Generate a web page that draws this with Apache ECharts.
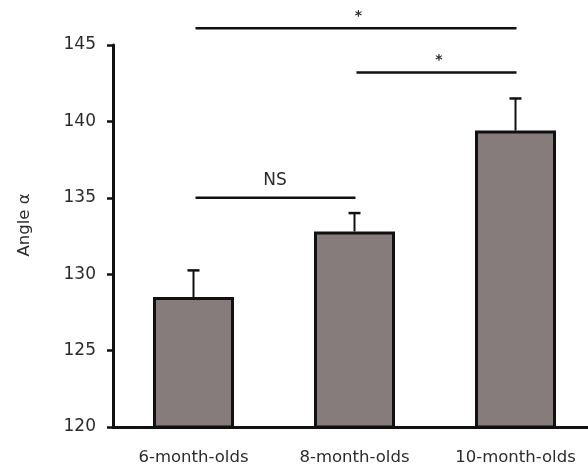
<!DOCTYPE html>
<html>
<head>
<meta charset="utf-8">
<script src="https://cdn.jsdelivr.net/npm/echarts@6/dist/echarts.min.js"></script>
<style>html,body{margin:0;padding:0;background:#fff;}#chart{width:588px;height:474px;}</style>
</head>
<body>
<div id="chart"></div>
<script>
const categories = ['6-month-olds', '8-month-olds', '10-month-olds'];
const means = [128.5, 132.8, 139.4];
const errors = [1.75, 1.2, 2.1];
const yTicks = [120, 125, 130, 135, 140, 145];
const sigFrom = [0, 1, 0];
const sigTo = [1, 2, 2];
const sigLevel = [135, 143.2, 146.1];
const sigLabels = ['NS', '*', '*'];

const textColor = '#2b2b2b';
const font = 'DejaVu Sans';
const chart = echarts.init(document.getElementById('chart'), null, {renderer: 'canvas'});

chart.setOption({
  animation: false,
  backgroundColor: '#ffffff',
  grid: {left: 113, top: 45, bottom: 47, right: -8, containLabel: false, outerBoundsMode: 'none'},
  xAxis: {
    type: 'category',
    data: categories,
    axisLine: {lineStyle: {color: '#111', width: 3}},
    axisTick: {inside: true, length: 5, lineStyle: {color: '#111', width: 3}},
    axisLabel: {color: textColor, fontFamily: font, fontSize: 16.5, margin: 22, interval: 0, hideOverlap: false}
  },
  yAxis: {
    type: 'value',
    min: yTicks[0],
    max: yTicks[yTicks.length - 1],
    interval: 5,
    name: 'Angle α',
    nameLocation: 'middle',
    nameGap: 80,
    nameRotate: 90,
    nameTextStyle: {color: textColor, fontFamily: font, fontSize: 16.5, padding: [0, 0, 0, 22]},
    splitLine: {show: false},
    axisLine: {show: true, lineStyle: {color: '#111', width: 3}},
    axisTick: {show: true, length: 6, lineStyle: {color: '#111', width: 2.5}},
    axisLabel: {color: textColor, fontFamily: font, fontSize: 17, margin: 17}
  },
  series: [
    {
      type: 'custom',
      clip: false,
      z: 1,
      data: categories.map((c, i) => [i, means[i], errors[i]]),
      renderItem: function (params, api) {
        const x = api.value(0), m = api.value(1), e = api.value(2);
        const p0 = api.coord([x, m]);
        const p1 = api.coord([x, m + e]);
        const hw = 6;
        return {
          type: 'group',
          children: [
            {type: 'line', shape: {x1: p0[0], y1: p0[1], x2: p1[0], y2: p1[1]}, style: {stroke: '#111', lineWidth: 2}},
            {type: 'line', shape: {x1: p1[0] - hw, y1: p1[1], x2: p1[0] + hw, y2: p1[1]}, style: {stroke: '#111', lineWidth: 2.5}}
          ]
        };
      }
    },
    {
      type: 'bar',
      z: 2,
      data: means,
      barWidth: 81,
      itemStyle: {color: '#867c7b', borderColor: '#111', borderWidth: 3}
    },
    {
      type: 'custom',
      clip: false,
      z: 3,
      data: sigFrom.map((f, i) => [f, sigTo[i], sigLevel[i]]),
      renderItem: function (params, api) {
        const a = api.coord([api.value(0), api.value(2)]);
        const b = api.coord([api.value(1), api.value(2)]);
        const lbl = sigLabels[params.dataIndex];
        const isStar = lbl === '*';
        return {
          type: 'group',
          children: [
            {type: 'line', shape: {x1: a[0] + 2, y1: a[1], x2: b[0] + 1, y2: b[1]}, style: {stroke: '#111', lineWidth: 2.5}},
            {type: 'text', x: (a[0] + b[0]) / 2 + (isStar ? 4 : 1), y: a[1] - (isStar ? 5 : 9),
             style: {text: lbl, fill: textColor, font: (isStar ? 'bold 14px ' : '17px ') + font, align: 'center', verticalAlign: 'bottom'}}
          ]
        };
      }
    }
  ]
});
</script>
</body>
</html>
